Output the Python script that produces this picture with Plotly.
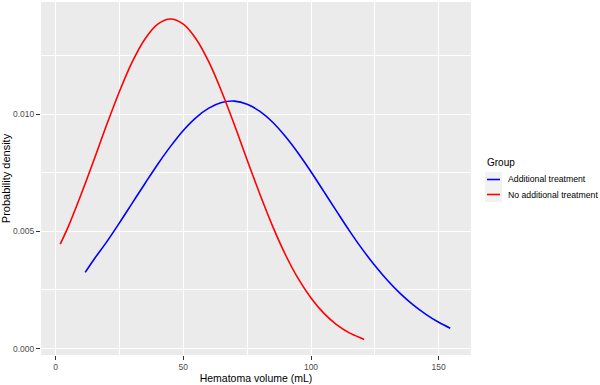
import plotly.graph_objects as go

# Data
add_x = [11.6, 15, 20, 25, 30, 35, 40, 45, 50, 55, 60, 65, 70, 75, 80, 85, 90, 95,
         100, 105, 110, 115, 120, 125, 130, 135, 140, 145, 150, 154.5]
add_y = [0.00325, 0.00380, 0.00455, 0.00536, 0.00620, 0.00704, 0.00786, 0.00862,
         0.00930, 0.00985, 0.01025, 0.01049, 0.01055, 0.01042, 0.01011, 0.00965,
         0.00904, 0.00833, 0.00754, 0.00670, 0.00586, 0.00503, 0.00425, 0.00354,
         0.00290, 0.00234, 0.00186, 0.00146, 0.00112, 0.00087]

noadd_x = [1.8, 5, 10, 15, 20, 25, 30, 35, 40, 45, 50, 55, 60, 65, 70, 75, 80, 85,
           90, 95, 100, 105, 110, 115, 120, 120.8]
noadd_y = [0.00445, 0.00521, 0.00658, 0.00804, 0.00954, 0.01096, 0.01222, 0.01320,
           0.01383, 0.01405, 0.01383, 0.01320, 0.01222, 0.01096, 0.00954, 0.00804,
           0.00658, 0.00521, 0.00400, 0.00298, 0.00216, 0.00151, 0.00102, 0.00067,
           0.00043, 0.00039]

group_names = ["Additional treatment", "No additional treatment"]
group_colors = ["#0000FF", "#FF0000"]

x_ticks = [0, 50, 100, 150]
y_ticks = [0.000, 0.005, 0.010]
y_tick_labels = ["0.000", "0.005", "0.010"]

FONT = "Liberation Sans, Arial, sans-serif"

fig = go.Figure()
for xs, ys, name, col in [(add_x, add_y, group_names[0], group_colors[0]),
                          (noadd_x, noadd_y, group_names[1], group_colors[1])]:
    fig.add_trace(go.Scatter(x=xs, y=ys, mode="lines", name=name, showlegend=False,
                             line=dict(color=col, width=1.6, shape="spline")))

axis_common = dict(
    showgrid=True, gridcolor="white", gridwidth=1.1,
    zeroline=False, showline=False, automargin=False,
    ticks="outside", ticklen=4, tickwidth=1, tickcolor="#333333",
    tickfont=dict(size=8.5, color="#4D4D4D", family=FONT),
)

# Custom ggplot-style legend (paper coordinates)
px_l, px_r, px_t, px_b = 41, 471, 2, 355
def px2paper_x(px):
    return (px - px_l) / (px_r - px_l)
def px2paper_y(py):
    return (px_b - py) / (px_b - px_t)

shapes = []
annotations = [dict(text="Group", x=px2paper_x(485), y=px2paper_y(162), xref="paper", yref="paper",
                    xanchor="left", yanchor="middle", showarrow=False,
                    font=dict(size=10, color="black", family=FONT))]
item_y = [179.5, 194.5]
for i, (name, col) in enumerate(zip(group_names, group_colors)):
    cy = item_y[i]
    shapes.append(dict(type="rect", xref="paper", yref="paper",
                       x0=px2paper_x(485), x1=px2paper_x(502),
                       y0=px2paper_y(cy - 7.5), y1=px2paper_y(cy + 7.5),
                       fillcolor="#F2F2F2", line=dict(width=0), layer="below"))
    shapes.append(dict(type="line", xref="paper", yref="paper",
                       x0=px2paper_x(487), x1=px2paper_x(500),
                       y0=px2paper_y(cy), y1=px2paper_y(cy),
                       line=dict(color=col, width=1.6)))
    annotations.append(dict(text=name, x=px2paper_x(506), y=px2paper_y(cy), xref="paper", yref="paper",
                            xanchor="left", yanchor="middle", showarrow=False,
                            font=dict(size=8.7, color="black", family=FONT)))

fig.update_layout(
    width=600, height=385,
    margin=dict(l=41, r=129, t=2, b=30),
    paper_bgcolor="white", plot_bgcolor="#EBEBEB",
    font=dict(family=FONT, color="black"),
    showlegend=False,
    xaxis=dict(range=[-5.72, 162.65], tickvals=x_ticks,
               minor=dict(dtick=25, tick0=25, showgrid=True, gridcolor="white", gridwidth=0.5, ticks=""),
               title=dict(text="Hematoma volume (mL)", font=dict(size=10.5), standoff=0),
               **axis_common),
    yaxis=dict(range=[-0.000273, 0.014774], tickvals=y_ticks, ticktext=y_tick_labels,
               minor=dict(dtick=0.0025, tick0=0.0025, showgrid=True, gridcolor="white", gridwidth=0.5, ticks=""),
               title=dict(text="Probability density", font=dict(size=11), standoff=1),
               **axis_common),
    shapes=shapes,
    annotations=annotations,
)

fig.write_html("out.html", config={"displayModeBar": False},
               post_script="document.body.style.margin='0';document.body.style.overflow='hidden';")
